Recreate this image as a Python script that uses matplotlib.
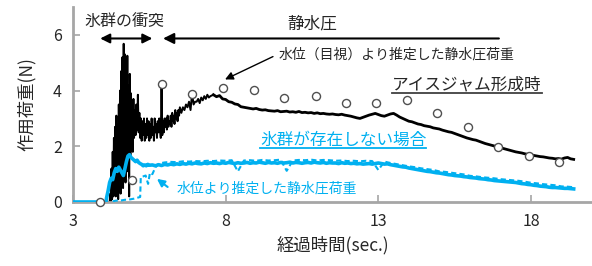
import numpy as np
import matplotlib
matplotlib.use("Agg")
import matplotlib.pyplot as plt
from matplotlib.lines import Line2D

plt.rcParams['font.family'] = ['Noto Sans CJK JP', 'DejaVu Sans']

# ---------------- data ----------------
# ice jam (black) force, in segments
ice_t1 = [3.0, 4.2]
ice_f1 = [0.0, 0.0]
ice_f2 = [0.3, 0.0, 1.2, 0.1, 1.8, 0.2, 2.3, 0.4, 2.7, 0.2, 3.1, 0.5, 2.8, 0.1, 3.5, 0.8,
          4.0, 0.3, 4.7, 1.0, 5.2, 0.5, 5.68, 1.6, 5.3, 0.7, 4.8, 1.9, 5.25, 1.1, 4.2, 0.2,
          4.6, 1.6, 3.9, 2.1, 3.5, 1.8, 3.7, 2.3]            # t = 4.22 .. 5.00 step 0.02
ice_f3 = [3.3, 2.4, 3.5, 2.6, 3.85, 2.5, 3.2, 2.3, 3.0, 2.2, 2.9, 2.4, 3.0, 2.2, 2.8, 2.3, 3.0, 2.4, 2.9, 2.2,
          2.8, 2.3, 3.0, 2.4, 2.7, 2.2, 3.0, 2.5, 2.8, 2.3, 2.9, 2.5, 3.0, 2.6, 2.3, 4.2, 2.4, 2.9, 2.5, 3.0,
          2.7, 3.0, 2.6, 3.1, 2.7, 2.9, 2.8, 3.1, 2.7, 3.2, 2.9, 3.1, 2.8, 3.3, 3.0, 3.2, 2.9, 3.3, 3.1, 3.4]
                                                              # t = 5.025 .. 6.5 step 0.025
ice_f4 = [3.2, 3.4, 3.3, 3.5, 3.4, 3.6, 3.3, 3.9, 3.5, 3.6, 3.6, 3.7, 3.55, 3.75, 3.65, 3.8, 3.7, 3.85, 3.75, 3.8]
                                                              # t = 6.55 .. 7.5 step 0.05
ice_f5 = [3.85, 3.78, 3.82, 3.70, 3.68, 3.60, 3.58, 3.52, 3.50, 3.42,
          3.40, 3.38, 3.36, 3.34, 3.36, 3.32, 3.30, 3.31, 3.28, 3.27,
          3.26, 3.28, 3.24, 3.25, 3.26, 3.23, 3.24, 3.22, 3.25, 3.21,
          3.22, 3.20, 3.21, 3.18, 3.20, 3.17, 3.18, 3.16, 3.15, 3.16,
          3.14, 3.13, 3.15, 3.12, 3.10, 3.08, 3.05, 3.02, 3.00, 3.04,
          3.08, 3.12, 3.15, 3.18, 3.14, 3.10, 3.08, 3.12, 3.16, 3.18,
          3.12, 3.05, 3.00, 2.95, 2.90, 2.88, 2.84, 2.80, 2.78, 2.74,
          2.72, 2.70, 2.66, 2.64, 2.62, 2.58, 2.55, 2.52, 2.50, 2.46,
          2.42, 2.38, 2.34, 2.30, 2.27, 2.24, 2.22, 2.18, 2.14, 2.10,
          2.07, 2.04, 2.01, 1.98, 1.95, 1.92, 1.89, 1.86, 1.83, 1.80,
          1.78, 1.76, 1.73, 1.71, 1.69, 1.67, 1.65, 1.63, 1.62, 1.60,
          1.58, 1.57, 1.55, 1.56, 1.54, 1.58, 1.60, 1.55, 1.53]   # t = 7.6 .. 19.4 step 0.1

# no ice (blue solid)
free_t1 = [3.0, 4.08]
free_f1 = [0.0, 0.0]
free_f2 = [0.15, 0.4, 0.7, 0.85, 0.8, 1.05, 1.2, 1.1, 1.25, 1.15, 1.05, 0.95, 1.2, 1.45, 1.65,
           1.7, 1.6, 1.55, 1.5, 1.45, 1.5, 1.42, 1.38, 1.35, 1.3, 1.33, 1.3, 1.35, 1.32]
                                                              # t = 4.10 .. 5.50 step 0.05
free_f3 = [1.33, 1.30, 1.34, 1.31, 1.35, 1.33, 1.36, 1.34, 1.37, 1.35,
           1.38, 1.36, 1.39, 1.37, 1.40, 1.38, 1.37, 1.40, 1.38, 1.41,
           1.39, 1.40, 1.38, 1.41, 1.39, 1.42, 1.40, 1.38, 1.41, 1.39,
           1.40, 1.42, 1.39, 1.41, 1.40, 1.43, 1.41, 1.39, 1.42, 1.40,
           1.41, 1.39, 1.42, 1.40, 1.41, 1.43, 1.40, 1.42, 1.41, 1.39,
           1.41, 1.42, 1.40, 1.43, 1.41, 1.40, 1.42, 1.39, 1.41, 1.40,
           1.40, 1.38, 1.41, 1.39, 1.40, 1.38, 1.39, 1.37, 1.38, 1.36,
           1.37, 1.38, 1.36, 1.38, 1.40, 1.38, 1.36, 1.37, 1.34, 1.32,
           1.30, 1.28, 1.26, 1.25, 1.22, 1.20, 1.18, 1.16, 1.14, 1.12,
           1.10, 1.09, 1.07, 1.05, 1.04, 1.02, 1.00, 0.98, 0.97, 0.95,
           0.94, 0.93, 0.91, 0.90, 0.88, 0.87, 0.86, 0.84, 0.83, 0.82,
           0.80, 0.79, 0.77, 0.76, 0.75, 0.74, 0.73, 0.72, 0.71, 0.70,
           0.68, 0.66, 0.65, 0.63, 0.62, 0.60, 0.59, 0.57, 0.56, 0.55,
           0.53, 0.52, 0.52, 0.51, 0.50, 0.49, 0.49, 0.48, 0.47]   # t = 5.6 .. 19.4 step 0.1

# hydrostatic load estimated from water level (blue dashed)
est_t1 = [4.3, 4.4, 4.5, 4.6, 4.7, 4.8, 4.9, 5.0, 5.1, 5.2, 5.22, 5.3, 5.38, 5.46, 5.52, 5.6, 5.7, 5.8, 5.9]
est_f1 = [0.02, 0.05, 0.05, 0.06, 0.08, 0.08, 0.10, 0.12, 0.15, 0.18, 0.90, 0.92, 0.95, 0.65, 1.05, 1.00, 1.25, 1.35, 1.40]
est_f2 = [1.42, 1.44, 1.43, 1.46, 1.45, 1.47, 1.46, 1.48, 1.47, 1.49,
          1.48, 1.50, 1.10, 1.49, 1.50, 1.48, 1.51, 1.49, 1.50, 1.52,
          1.12, 1.49, 1.51, 1.50, 1.52, 1.49, 1.51, 1.50, 1.48, 1.49,
          1.47, 1.48, 1.46, 1.48, 1.47, 1.15, 1.45, 1.40, 1.36, 1.32,
          1.28, 1.25, 1.21, 1.18, 1.15, 1.10, 1.08, 1.05, 1.02, 0.99,
          0.94, 0.92, 0.89, 0.87, 0.85, 0.82, 0.80, 0.78, 0.76, 0.73,
          0.69, 0.67, 0.64, 0.62, 0.60, 0.56, 0.55, 0.53]   # t = 6.0 .. 19.4 step 0.2

# visual water level estimate (circles)
circ_t = [3.9, 4.93, 5.92, 6.9, 7.92, 8.93, 9.92, 10.96, 11.94, 12.92, 13.94, 14.92, 15.94, 16.93, 17.95, 18.93]
circ_f = [0.0, 0.79, 4.25, 3.89, 4.1, 4.03, 3.75, 3.8, 3.55, 3.55, 3.67, 3.2, 2.7, 1.98, 1.66, 1.44]

x_ticks = [3, 8, 13, 18]
y_ticks = [0, 2, 4, 6]

# ---------------- assemble ----------------
ice_t = np.concatenate([ice_t1,
                        np.round(np.arange(len(ice_f2)) * 0.02 + 4.22, 3),
                        np.round(np.arange(len(ice_f3)) * 0.025 + 5.025, 3),
                        np.round(np.arange(len(ice_f4)) * 0.05 + 6.55, 3),
                        np.round(np.arange(len(ice_f5)) * 0.1 + 7.6, 3)])
ice_f = np.concatenate([ice_f1, ice_f2, ice_f3, ice_f4, ice_f5])
free_t = np.concatenate([free_t1,
                         np.round(np.arange(len(free_f2)) * 0.05 + 4.10, 3),
                         np.round(np.arange(len(free_f3)) * 0.1 + 5.6, 3)])
free_f = np.concatenate([free_f1, free_f2, free_f3])
est_t = np.concatenate([est_t1, np.round(np.arange(len(est_f2)) * 0.2 + 6.0, 3)])
est_f = np.concatenate([est_f1, est_f2])

BLUE = '#00B0F0'
GRAY = '#A6A6A6'
TXT = '#262626'

fig = plt.figure(figsize=(5.92, 2.66), dpi=100)
ax = fig.add_axes([73 / 592, 64 / 266, 519 / 592, 195 / 266])

n_noisy = 2 + len(ice_f2) + len(ice_f3) + len(ice_f4)
ax.plot(ice_t[:n_noisy + 1], ice_f[:n_noisy + 1], color='black', lw=1.4, zorder=2)
ax.plot(ice_t[n_noisy:], ice_f[n_noisy:], color='black', lw=2.0, zorder=2)
ax.plot(free_t, free_f, color=BLUE, lw=2.6, zorder=3)
ax.plot(est_t, est_f, color=BLUE, lw=1.5, ls=(0, (2.5, 1.5)), zorder=3)
ax.plot(circ_t, circ_f, ls='none', marker='o', ms=5.8, mfc='white', mec='#505050', mew=1.0,
        zorder=5, clip_on=False)

ax.set_xlim(3, 20)
ax.set_ylim(0, 7)
ax.set_xticks(x_ticks)
ax.set_yticks(y_ticks)
for s in ['top', 'right']:
    ax.spines[s].set_visible(False)
for s in ['left', 'bottom']:
    ax.spines[s].set_color(GRAY)
    ax.spines[s].set_linewidth(2.0)
ax.tick_params(direction='in', length=5, width=1.2, color=GRAY, labelsize=11.5,
               labelcolor=TXT, pad=8)
ax.set_xlabel('経過時間(sec.)', fontsize=12.5, color=TXT, labelpad=4)
ax.set_ylabel('作用荷重(N)', fontsize=12.5, color=TXT, labelpad=12)

# annotations
ax.text(4.67, 6.49, '氷群の衝突', fontsize=11.5, ha='center', va='center', color=TXT)
ax.annotate('', xy=(3.89, 5.87), xytext=(5.6, 5.87),
            arrowprops=dict(arrowstyle='<|-|>', color='black', lw=1.5, mutation_scale=14,
                            shrinkA=0, shrinkB=0))
ax.annotate('', xy=(5.95, 5.87), xytext=(16.95, 5.87),
            arrowprops=dict(arrowstyle='-|>', color='black', lw=1.5, mutation_scale=16,
                            shrinkA=0, shrinkB=0))
ax.text(10.84, 6.38, '静水圧', fontsize=12, ha='center', va='center', color=TXT)
ax.text(9.72, 5.3, '水位（目視）より推定した静水圧荷重', fontsize=10, ha='left', va='center', color=TXT)
ax.annotate('', xy=(7.98, 4.4), xytext=(9.55, 5.22),
            arrowprops=dict(arrowstyle='-|>', color='black', lw=1.0, mutation_scale=12,
                            shrinkA=0, shrinkB=0))
t_jam = ax.text(13.46, 4.2, 'アイスジャム形成時', fontsize=12, ha='left', va='center', color=TXT)
t_free = ax.text(9.13, 2.23, '氷群が存在しない場合', fontsize=12, ha='left', va='center', color=BLUE)
ax.text(6.41, 0.5, '水位より推定した静水圧荷重', fontsize=10, ha='left', va='center', color=BLUE)
ax.annotate('', xy=(5.75, 0.83), xytext=(6.1, 0.54),
            arrowprops=dict(arrowstyle='-|>', color=BLUE, lw=1.5, mutation_scale=11,
                            shrinkA=0, shrinkB=0))

# underlines derived from rendered text extents
fig.canvas.draw()
inv = fig.transFigure.inverted()
for t, c in [(t_jam, '#404040'), (t_free, BLUE)]:
    bb = t.get_window_extent()
    (x0, y0), (x1, _) = inv.transform([[bb.x0, bb.y0], [bb.x1, bb.y1]])
    fig.add_artist(Line2D([x0, x1], [y0 + 0.002, y0 + 0.002], color=c, lw=1.3,
                          transform=fig.transFigure))

fig.savefig('out.png', dpi=100)
